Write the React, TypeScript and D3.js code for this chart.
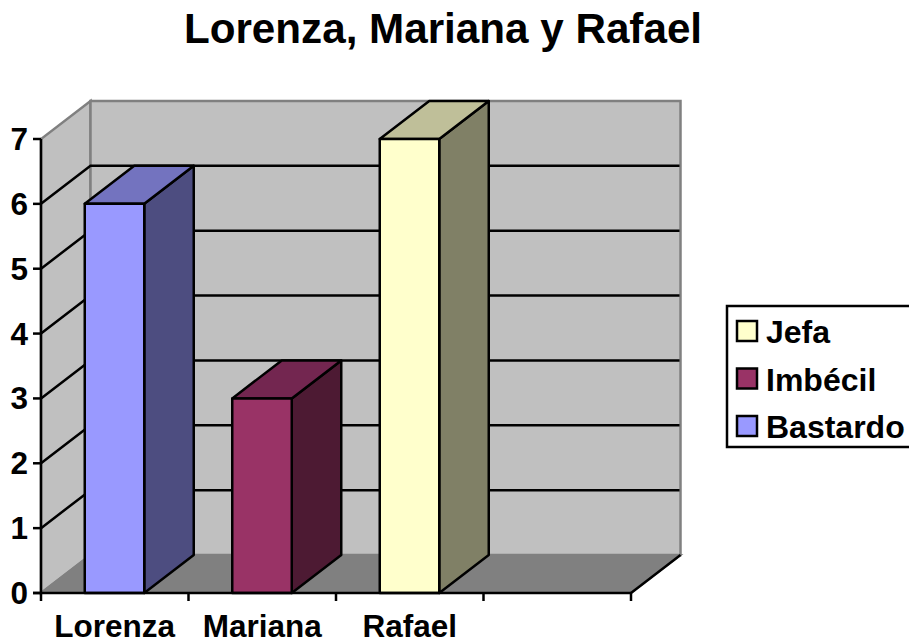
import React from "react";
import * as d3 from "d3";

const categories = ["Lorenza", "Mariana", "Rafael", ""];
const seriesNames = ["Jefa", "Imbécil", "Bastardo"];
const seriesColors = ["#ffffcc", "#993366", "#9999ff"];
const seriesTop = ["#bfbf99", "#732650", "#7373bf"];
const seriesSide = ["#808066", "#4d1a33", "#4d4d80"];
const barValues = [6, 3, 7];
const barSeries = [2, 1, 0];
const yTicks = [0, 1, 2, 3, 4, 5, 6, 7];

const W = 909, H = 644;
const font = "'Liberation Sans', Arial, sans-serif";
const x = d3.scaleBand<string>().domain(categories).range([41, 631]).paddingInner(0).paddingOuter(0);
const y = d3.scaleLinear().domain([0, 7]).range([593, 139]);
const dx = 49.5, dy = -38;
const pts = (p: number[][]) => p.map((q) => q.join(",")).join(" ");

export default function App() {
  const x0 = x.range()[0], x1 = x.range()[1];
  const barW = 59.5;
  const ticksX = categories.map((c) => x(c)!).concat([x1]);
  return (
    <svg width={W} height={H} style={{ position: "absolute", left: 0, top: 0, background: "#fff" }}>
      <text x={443} y={43} textAnchor="middle" fontFamily={font} fontWeight="bold" fontSize={42.2} fill="#000">
        Lorenza, Mariana y Rafael
      </text>
      {/* walls and floor */}
      <polygon points={pts([[x0, y(0)], [x0 + dx, y(0) + dy], [x0 + dx, y(7) + dy], [x0, y(7)]])} fill="#c0c0c0" stroke="#808080" strokeWidth={2.5} />
      <polygon points={pts([[x0 + dx, y(0) + dy], [x1 + dx, y(0) + dy], [x1 + dx, y(7) + dy], [x0 + dx, y(7) + dy]])} fill="#c0c0c0" stroke="#808080" strokeWidth={2.5} />
      <polygon points={pts([[x0, y(0)], [x1, y(0)], [x1 + dx, y(0) + dy], [x0 + dx, y(0) + dy]])} fill="#808080" stroke="#808080" strokeWidth={2} />
      {/* gridlines */}
      {yTicks.slice(1, -1).map((t) => (
        <polyline key={t} points={pts([[x0, y(t)], [x0 + dx, y(t) + dy], [x1 + dx - 1, y(t) + dy]])} fill="none" stroke="#000" strokeWidth={2.5} />
      ))}
      <line x1={x1} y1={y(0)} x2={x1 + dx} y2={y(0) + dy} stroke="#000" strokeWidth={2.5} />
      {/* bars */}
      {barValues.map((v, i) => {
        const c = categories[i];
        const l = x(c)! + (x.bandwidth() - barW) / 2 - 0.25;
        const r = l + barW;
        const t = y(v), b = y(0);
        const s = barSeries[i];
        const st = { stroke: "#000", strokeWidth: 2.5, strokeLinejoin: "round" as const };
        return (
          <g key={c}>
            <polygon points={pts([[r, b], [r + dx, b + dy], [r + dx, t + dy], [r, t]])} fill={seriesSide[s]} {...st} />
            <polygon points={pts([[l, t], [r, t], [r + dx, t + dy], [l + dx, t + dy]])} fill={seriesTop[s]} {...st} />
            <rect x={l} y={t} width={barW} height={b - t} fill={seriesColors[s]} {...st} />
          </g>
        );
      })}
      {/* axes */}
      <line x1={x0} y1={y(7)} x2={x0} y2={y(0)} stroke="#000" strokeWidth={2.5} />
      <line x1={x0 - 8} y1={y(0)} x2={x1} y2={y(0)} stroke="#000" strokeWidth={2.5} />
      {yTicks.map((t) => (
        <g key={t}>
          <line x1={x0 - 8} y1={y(t)} x2={x0} y2={y(t)} stroke="#000" strokeWidth={2.5} />
          <text x={28} y={y(t) + 11} textAnchor="end" fontFamily={font} fontWeight="bold" fontSize={31.5} fill="#000">{t}</text>
        </g>
      ))}
      {ticksX.map((tx, i) => (
        <line key={i} x1={tx} y1={y(0)} x2={tx} y2={y(0) + 8} stroke="#000" strokeWidth={2.5} />
      ))}
      {categories.map((c) => (
        <text key={c} x={x(c)! + x.bandwidth() / 2} y={637} textAnchor="middle" fontFamily={font} fontWeight="bold" fontSize={31.5} fill="#000">{c}</text>
      ))}
      {/* legend */}
      <rect x={727} y={306} width={190} height={141} fill="#fff" stroke="#000" strokeWidth={2.5} />
      {seriesNames.map((n, i) => (
        <g key={n}>
          <rect x={737} y={321 + i * 47.5} width={20} height={20} fill={seriesColors[i]} stroke="#000" strokeWidth={2.5} />
          <text x={766} y={343 + i * 47.5} fontFamily={font} fontWeight="bold" fontSize={32} fill="#000">{n}</text>
        </g>
      ))}
    </svg>
  );
}
